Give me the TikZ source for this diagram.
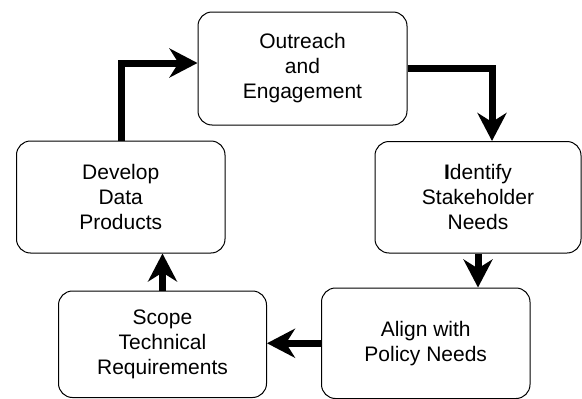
\documentclass[tikz,border=0pt]{standalone}
\usepackage{fontspec}
\setmainfont{Liberation Sans}
\usetikzlibrary{arrows.meta,calc}
\tikzset{
  stage/.style={draw=black, line width=1pt, rounded corners=14pt, align=center,
    font=\fontsize{21}{25}\selectfont, inner sep=0pt},
  flow/.style={line width=7pt, -{Stealth[length=28pt, width=29pt, inset=9pt]}}
}
\begin{document}
\begin{tikzpicture}[x=1pt, y=-1pt]
\useasboundingbox (0,0) rectangle (582,399);
\node[stage, minimum width=209pt, minimum height=113pt] (out) at (302.5,68.5) {Outreach\\and\\Engagement};
\node[stage, minimum width=206pt, minimum height=111.5pt] (idn) at (478,197.25) {\textbf{I}dentify\\Stakeholder\\Needs};
\node[stage, minimum width=208.5pt, minimum height=110.5pt] (aln) at (425.75,343.25) {Align with\\Policy Needs};
\node[stage, minimum width=208pt, minimum height=106.5pt] (scp) at (162.5,344.25) {Scope\\Technical\\Requirements};
\node[stage, minimum width=208.5pt, minimum height=112pt] (dev) at (120.75,197) {Develop\\Data\\Products};
\draw[flow] ([xshift=1pt]dev.north) |- ([yshift=5.5pt]out.west);
\draw[flow] (out.east) -| ([xshift=14pt]idn.north);
\draw[flow] (idn.south) -- (idn.south |- aln.north);
\draw[flow] (aln.west) -- (aln.west -| scp.east);
\draw[flow] (scp.north) -- (scp.north |- dev.south);
\end{tikzpicture}
\end{document}
